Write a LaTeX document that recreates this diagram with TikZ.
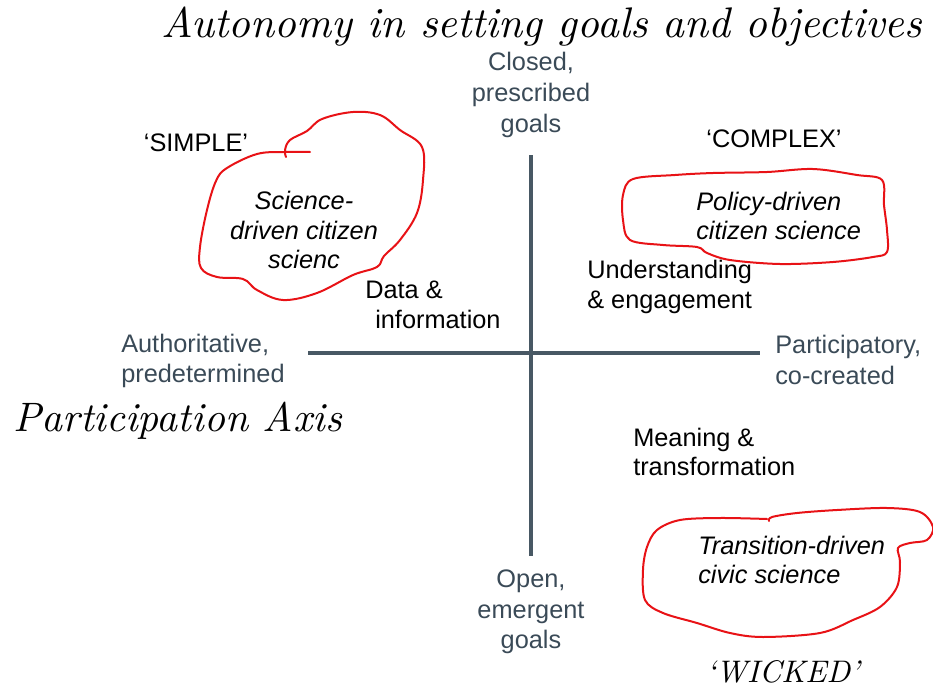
\documentclass[tikz,border=0pt]{standalone}
\usepackage{fontspec}
\setmainfont{Liberation Sans}
\newfontfamily\hand{Latin Modern Roman}[Ligatures=TeX]
\usepackage{graphicx}
\definecolor{labcol}{RGB}{58,74,87}
\definecolor{axiscol}{RGB}{72,88,100}
\definecolor{blobred}{RGB}{232,18,22}
\begin{document}
\begin{tikzpicture}[x=0.75pt,y=-0.75pt,
  lab/.style={font=\fontsize{19}{23}\selectfont, text=labcol, inner sep=0pt},
  body/.style={font=\fontsize{19}{22}\selectfont, text=black, inner sep=0pt},
  ital/.style={font=\fontsize{19}{22}\selectfont\itshape, text=black, inner sep=0pt},
  hw/.style={font=\hand\itshape, text=black, inner sep=0pt},
  blob/.style={draw=blobred, line width=1.5pt, line cap=round, line join=round},
  axisline/.style={draw=axiscol, line width=2.3pt}]
\useasboundingbox (0,0) rectangle (933,689);

% axes
\coordinate (vtop) at (531,155);
\coordinate (vbot) at (531,556);
\coordinate (hleft) at (308,353);
\coordinate (hright) at (760,353);
\draw[axisline] (vtop) -- (vbot);
\draw[axisline] (hleft) -- (hright);

% handwritten annotations
\node[hw] (title) at (542,27) {\resizebox{570pt}{!}{Autonomy in setting goals and objectives}};
\node[hw] (paxis) at (178,421) {\resizebox{246pt}{!}{Participation Axis}};
\node[hw] (wicked) at (783,672) {\resizebox{115pt}{!}{‘WICKED’}};

% axis labels
\node[lab, align=center] (closed) at (531,95) {Closed,\\prescribed\\goals};
\node[lab, align=center] (open) at (531,612) {Open,\\emergent\\goals};
\node[lab, align=left, anchor=west] (auth) at (121,361) {Authoritative,\\predetermined};
\node[lab, align=left, anchor=west] (partic) at (775,360) {Participatory,\\co-created};

% quadrant labels
\node[body] (simple) at (196,143) {‘SIMPLE’};
\node[body] (complex) at (774,139) {‘COMPLEX’};
\node[ital, align=center] (science) at (304,230) {Science-\\driven citizen\\scienc};
\node[ital, align=left, anchor=west] (policy) at (696,216) {Policy-driven\\citizen science};
\node[ital, align=left, anchor=west] (transition) at (698,560) {Transition-driven\\civic science};
\node[body, align=left, anchor=west] (data) at (365,305) {Data \&\\\hspace*{7.5pt}information};
\node[body, align=left, anchor=west] (underst) at (587,287) {Understanding\\\& engagement};
\node[body, align=left, anchor=west] (meaning) at (633,452) {Meaning \&\\transformation};

% red freehand outlines
\draw[blob] plot[smooth, tension=0.6] coordinates {
 (310,152) (285,152) (257,154) (227,168) (216,181) (207,210) (200,247)
 (201,268) (217,277) (243,279) (257,290) (283,300) (317,293) (353,275)
 (377,267) (384,256) (400,240) (417,213) (423,180) (422,147) (400,130)
 (380,115) (353,112) (322,119) (307,131) (290,140) (285,150) (286,157)};
\draw[blob] plot[smooth cycle, tension=0.55] coordinates {
 (633,179) (675,175) (713,173) (767,172) (813,169) (857,175) (882,180)
 (884,205) (887,230) (887,252) (873,257) (833,262) (780,264) (730,260)
 (707,253) (697,247) (663,245) (630,240) (623,220) (623,195)};
\draw[blob] plot[smooth, tension=0.55] coordinates {
 (767,519) (720,518) (680,520) (657,530) (647,547) (643,570) (645,600)
 (663,613) (697,623) (730,633) (763,637) (820,633) (853,620) (880,607)
 (897,587) (900,562) (898,548) (910,543) (927,540) (933,527) (920,512)
 (887,508) (837,510) (797,513) (772,517) (769,521)};
\end{tikzpicture}
\end{document}
